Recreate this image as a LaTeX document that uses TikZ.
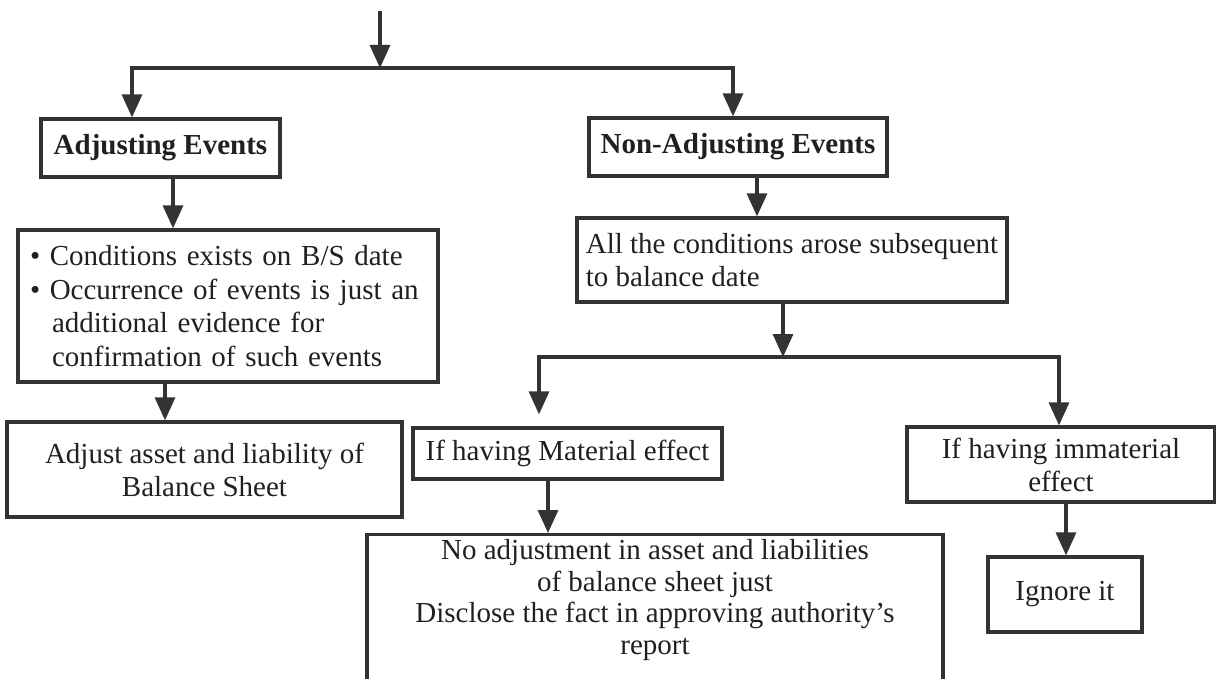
\documentclass[tikz,border=0pt]{standalone}
\usepackage{fontspec}
\setmainfont{Liberation Serif}
\usetikzlibrary{arrows.meta}
\definecolor{ink}{HTML}{333333}
\definecolor{txt}{HTML}{231F20}
\begin{document}
\begin{tikzpicture}[x=1pt,y=-1pt,
  box/.style={draw=ink, line width=3.2pt, inner sep=0pt, text=txt,
    font=\fontsize{29}{33}\selectfont, align=center},
  bold/.style={font=\bfseries\fontsize{29}{33}\selectfont},
  arr/.style={draw=ink, line width=3.2pt, -{Triangle[length=23pt,width=20pt]}},
  ]
\useasboundingbox (0,0) rectangle (1216,679);

% left branch
\node[box, bold, minimum width=239pt, minimum height=58pt] (adj) at (160.5,148) {Adjusting Events};
\node[box, minimum width=420pt, minimum height=152pt, text width=396pt, align=left,
      font=\fontsize{29}{33.5}\selectfont] (cond) at (228,306)
  {\textbullet\ Conditions exists on B/S date\\
   \textbullet\ Occurrence of events is just an\\
   \hspace*{22pt}additional evidence for\\
   \hspace*{22pt}confirmation of such events};
\node[box, minimum width=395pt, minimum height=95pt] (bs) at (204.5,469.5)
  {Adjust asset and liability of\\Balance Sheet};

% right branch
\node[box, bold, minimum width=298pt, minimum height=58pt] (nonadj) at (738,147) {Non-Adjusting Events};
\node[box, minimum width=430pt, minimum height=84pt, align=left] (all) at (792,260)
  {All the conditions arose subsequent\\to balance date};
\node[box, minimum width=309pt, minimum height=51pt] (mat) at (567.5,453.5) {If having Material effect};
\node[box, minimum width=308pt, minimum height=75pt] (immat) at (1061,464.5) {If having immaterial\\effect};
\node[box, minimum width=154pt, minimum height=75pt] (ign) at (1065,594.5) {Ignore it};
\node[box, anchor=north, minimum width=576pt, minimum height=170pt] (big) at (655,533)
  {\parbox[t][160pt][t]{560pt}{\centering\fontsize{29}{31.5}\selectfont
   No adjustment in asset and liabilities\\
   of balance sheet just\\
   Disclose the fact in approving authority’s\\
   report}};

% connectors
\coordinate (src) at (380,11);
\coordinate (fork1) at (380,68);
\coordinate (fork2) at (783,357);
\draw[arr] (src) -- (fork1);
\draw[arr] (fork1) -| ([xshift=-28.5pt]adj.north);
\draw[arr] (fork1) -| ([xshift=-5pt]nonadj.north);
\draw[arr] ([xshift=12.5pt]adj.south) -- ([xshift=12.5pt]adj.south |- cond.north);
\draw[arr] ([xshift=-63pt]cond.south) -- ([xshift=-63pt]cond.south |- bs.north);
\draw[arr] ([xshift=19pt]nonadj.south) -- ([xshift=19pt]nonadj.south |- all.north);
\draw[arr] (all.south -| fork2) -- (fork2);
\draw[arr] (fork2) -| ([xshift=-28.5pt,yshift=12pt]mat.north);
\draw[arr] (fork2) -| ([xshift=-2pt]immat.north);
\draw[arr] ([xshift=-19.5pt]mat.south) -- ([xshift=-19.5pt]mat.south |- big.north);
\draw[arr] ([xshift=5pt]immat.south) -- ([xshift=5pt]immat.south |- ign.north);
\end{tikzpicture}
\end{document}
